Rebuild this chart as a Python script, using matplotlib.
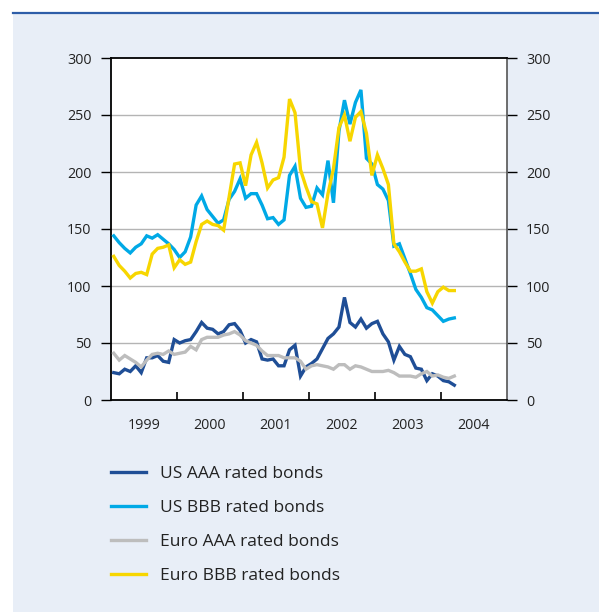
import numpy as np
import matplotlib
matplotlib.use("Agg")
import matplotlib.pyplot as plt
from matplotlib.lines import Line2D
from matplotlib.patches import Rectangle

plt.rcParams['font.family'] = ['Open Sans', 'DejaVu Sans']

# Monthly data, Jan 1999 - Mar 2004 (basis points)
us_aaa = [24, 23, 27, 25, 30, 24, 37, 37, 39, 34, 33, 53,
          50, 52, 53, 60, 68, 63, 62, 58, 60, 66, 67, 61,
          50, 53, 51, 36, 35, 36, 30, 30, 44, 48, 21, 29,
          32, 36, 45, 54, 58, 64, 90, 68, 64, 71, 63, 67,
          69, 58, 51, 35, 47, 40, 38, 28, 27, 17, 23, 21,
          17, 16, 13]
us_bbb = [144, 138, 133, 129, 134, 137, 144, 142, 145, 141, 137, 132,
          125, 130, 143, 171, 179, 167, 161, 155, 158, 176, 183, 194,
          177, 181, 181, 171, 159, 160, 154, 158, 197, 205, 177, 169,
          170, 186, 180, 210, 173, 236, 263, 242, 261, 272, 212, 207,
          189, 185, 175, 135, 137, 124, 111, 97, 90, 81, 79, 74,
          69, 71, 72]
euro_aaa = [41, 35, 39, 36, 33, 29, 35, 40, 41, 40, 43, 40,
            41, 42, 47, 44, 53, 55, 55, 55, 57, 58, 60, 57,
            52, 50, 48, 43, 39, 39, 39, 37, 37, 37, 34, 27,
            30, 31, 30, 29, 27, 31, 31, 27, 30, 29, 27, 25,
            25, 25, 26, 24, 21, 21, 21, 20, 23, 25, 21, 22,
            20, 19, 21]
euro_bbb = [126, 118, 113, 107, 111, 112, 110, 128, 133, 134, 136, 116,
            123, 119, 121, 139, 154, 157, 154, 153, 149, 178, 207, 208,
            188, 215, 226, 208, 186, 193, 195, 213, 264, 252, 202, 187,
            174, 172, 151, 181, 203, 239, 250, 227, 248, 253, 234, 197,
            215, 203, 189, 137, 130, 121, 113, 113, 115, 95, 85, 95,
            99, 96, 96]

series_labels = ["US AAA rated bonds", "US BBB rated bonds",
                 "Euro AAA rated bonds", "Euro BBB rated bonds"]
series_colors = ["#1f4e96", "#00a9e6", "#bdbdbd", "#f7d600"]
year_labels = ["1999", "2000", "2001", "2002", "2003", "2004"]
y_ticks = [0, 50, 100, 150, 200, 250, 300]

start_year = 1999
t = start_year + (np.arange(len(us_aaa)) + 0.5) / 12.0

W, H = 599, 612
fig = plt.figure(figsize=(W / 100, H / 100), dpi=100)
fig.patch.set_facecolor("white")
fig.add_artist(Rectangle((13 / W, 0), 1 - 13 / W, 1 - 13 / H,
                         transform=fig.transFigure, facecolor="#e8eef7",
                         edgecolor="none", zorder=0))
fig.add_artist(Line2D([13 / W, 1], [1 - 12.5 / H, 1 - 12.5 / H],
                      transform=fig.transFigure, color="#2d5da8", lw=1.6))

ax = fig.add_axes([111 / W, 1 - 400 / H, (506.5 - 111) / W, (400 - 58) / H])
ax.set_facecolor("white")

text_color = "#222222"
handles = []
for vals, lab, col in zip([us_aaa, us_bbb, euro_aaa, euro_bbb],
                          series_labels, series_colors):
    h, = ax.plot(t, vals, color=col, lw=2.4, label=lab,
                 solid_joinstyle="miter", zorder=3)
    handles.append(h)

ax.set_xlim(1999, 2005)
ax.set_ylim(0, 300)
ax.set_yticks(y_ticks)
for yv in y_ticks[1:-1]:
    ax.axhline(yv, color="#b4b4b4", lw=1.0, zorder=1)

# x: major ticks at year boundaries (inward), labels at mid-year
ax.set_xticks([2000, 2001, 2002, 2003, 2004])
ax.set_xticklabels([])
ax.set_xticks([int(y) + 0.5 for y in year_labels], minor=True)
ax.set_xticklabels(year_labels, minor=True)
ax.tick_params(axis="x", which="major", direction="in", length=6,
               width=1.2, color="black")
ax.tick_params(axis="x", which="minor", length=0, pad=13,
               labelsize=10.3, labelcolor=text_color)
ax.tick_params(axis="y", which="major", direction="out", length=7,
               width=1.0, pad=7, labelsize=10.3, labelcolor=text_color,
               left=True, right=True, labelleft=True, labelright=True)

for s in ["left", "top", "bottom"]:
    ax.spines[s].set_color("black")
    ax.spines[s].set_linewidth(1.3)
ax.spines["right"].set_color("#555555")
ax.spines["right"].set_linewidth(1.2)

fig.legend(handles=handles, loc="upper left",
           bbox_to_anchor=(111 / W, 1 - 466 / H), frameon=False,
           borderpad=0, borderaxespad=0, handlelength=2.0,
           handletextpad=0.85, labelspacing=1.03,
           prop={"size": 12.5}, labelcolor=text_color)

fig.savefig("out.png", dpi=100, facecolor=fig.get_facecolor())
